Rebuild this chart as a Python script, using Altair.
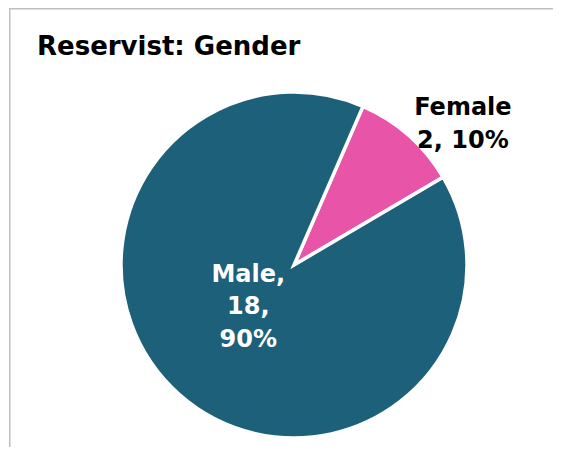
import altair as alt
import pandas as pd
import math

# Data
title_text = "Reservist: Gender"
categories = ["Female", "Male"]
counts = [2, 18]
percents = [10, 90]
colors = ["#E855A8", "#1D6079"]

def make_label(cat, n, p):
    if cat == "Male":
        return f"{cat},\n{n},\n{p}%"
    return f"{cat}\n{n}, {p}%"

df = pd.DataFrame({
    "category": categories,
    "count": counts,
    "percent": percents,
    "order": list(range(len(categories))),
})
df["label"] = [make_label(c, n, p) for c, n, p in zip(categories, counts, percents)]
df["male_label"] = [l if c == "Male" else "" for c, l in zip(categories, df["label"])]
df["female_label"] = [l if c == "Female" else "" for c, l in zip(categories, df["label"])]

W, H = 545, 439
CX, CY = 286, 257
start = math.radians(23.5)
theta_scale = alt.Scale(range=[start, start + 2 * math.pi])

base = alt.Chart(df).encode(
    theta=alt.Theta("count:Q", stack=True, scale=theta_scale),
    order=alt.Order("order:Q"),
    x=alt.value(CX),
    y=alt.value(CY),
)

pie = base.mark_arc(outerRadius=173, stroke="white", strokeWidth=3.5).encode(
    color=alt.Color("category:N", scale=alt.Scale(domain=categories, range=colors), legend=None)
)

font = "DejaVu Sans"
male_text = base.mark_text(
    radius=60, dx=-6, dy=-35, fontSize=24, font=font, fontWeight="bold", color="white",
    lineBreak="\n", lineHeight=32.5, align="center", baseline="middle",
).encode(text="male_label:N")

female_text = base.mark_text(
    radius=190, dx=43, dy=-15, fontSize=24, font=font, fontWeight="bold", color="black",
    lineBreak="\n", lineHeight=33, align="center", baseline="middle",
).encode(text="female_label:N")

frame_df = pd.DataFrame({"title": [title_text]})
border_color = "#BFBFBF"
top_line = alt.Chart(frame_df).mark_rule(color=border_color, strokeWidth=1.5).encode(
    x=alt.value(1), x2=alt.value(W), y=alt.value(0.75)
)
left_line = alt.Chart(frame_df).mark_rule(color=border_color, strokeWidth=1.5).encode(
    x=alt.value(1.75), y=alt.value(0), y2=alt.value(H)
)
title = alt.Chart(frame_df).mark_text(
    fontSize=26, font=font, fontWeight="bold", color="black",
    align="left", baseline="alphabetic",
).encode(x=alt.value(29), y=alt.value(46.5), text="title:N")

chart = alt.layer(pie, male_text, female_text, top_line, left_line, title).properties(
    width=W,
    height=H,
    autosize=alt.AutoSizeParams(type="none"),
    padding=0,
).configure_view(stroke=None)

chart.save("out.html", embed_options={"renderer": "svg", "actions": False})
